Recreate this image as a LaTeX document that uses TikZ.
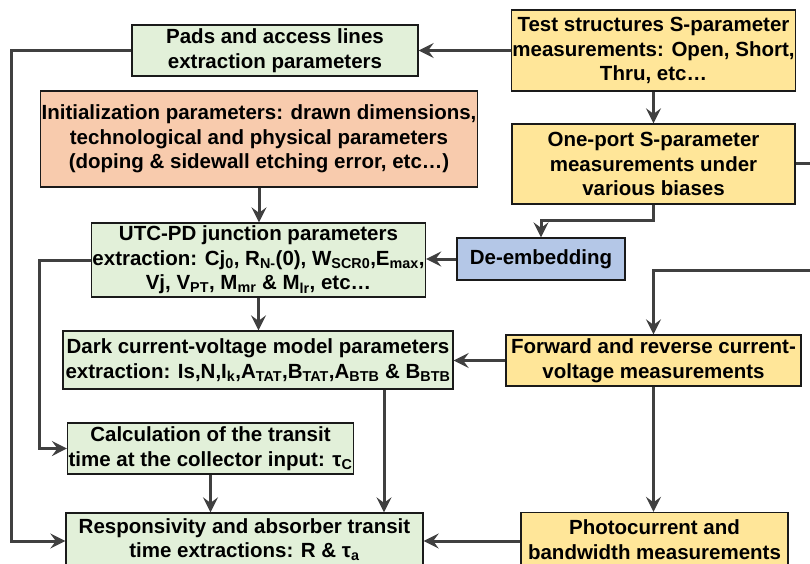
\documentclass[tikz,border=0pt]{standalone}
\usepackage{fontspec}
\setmainfont{Liberation Sans}
\usetikzlibrary{arrows.meta,calc}
\definecolor{gfill}{HTML}{E2F0D9}
\definecolor{sfill}{HTML}{F8CBAD}
\definecolor{yfill}{HTML}{FFE699}
\definecolor{bfill}{HTML}{B4C7E7}
\definecolor{lcol}{HTML}{404040}
\definecolor{bcol}{HTML}{1A1A1A}
\tikzset{
  box/.style={draw=bcol, line width=1.3pt, align=center, inner sep=1pt,
    font=\fontsize{20.5}{24.5}\selectfont\bfseries, text=black},
  gbox/.style={box, fill=gfill},
  sbox/.style={box, fill=sfill},
  ybox/.style={box, fill=yfill},
  bbox/.style={box, fill=bfill},
  arr/.style={draw=lcol, line width=3pt, -{Stealth[length=15pt,width=15pt,inset=5.5pt]}},
  ln/.style={draw=lcol, line width=3pt}
}
\newcommand{\sbx}[1]{\textsubscript{#1}}
\begin{document}
\begin{tikzpicture}[x=1pt,y=-1pt]
\useasboundingbox (0,0) rectangle (810,563);
\clip (0,0) rectangle (810,563);
\fill[white] (0,0) rectangle (810,563);

\node[gbox, minimum width=286pt, minimum height=51pt] (pads) at (275,50.5)
  {Pads and access lines\\extraction parameters};
\node[sbox, minimum width=436pt, minimum height=96pt] (init) at (259,139)
  {Initialization parameters: drawn dimensions,\\technological and physical parameters\\(doping \& sidewall etching error, etc…)};
\node[ybox, minimum width=283pt, minimum height=81pt] (test) at (653.5,50.5)
  {Test structures S-parameter\\measurements: Open, Short,\\Thru, etc…};
\node[ybox, minimum width=283pt, minimum height=80pt] (onep) at (653.5,164)
  {One-port S-parameter\\measurements under\\various biases};
\node[bbox, minimum width=168pt, minimum height=42pt] (deemb) at (541,259)
  {De-embedding};
\node[gbox, minimum width=328pt, minimum height=74pt] (utc) at (258.5,260)
  {UTC-PD junction parameters\\extraction: Cj\sbx{0}, R\sbx{N-}(0), W\sbx{SCR0},E\sbx{max},\\Vj, V\sbx{PT}, M\sbx{mr} \& M\sbx{lr}, etc…};
\node[gbox, minimum width=390pt, minimum height=58pt] (dark) at (258,360)
  {Dark current-voltage model parameters\\extraction: Is,N,I\sbx{k},A\sbx{TAT},B\sbx{TAT},A\sbx{BTB} \& B\sbx{BTB}};
\node[ybox, minimum width=295pt, minimum height=51pt] (fwd) at (653.5,360.5)
  {Forward and reverse current-\\voltage measurements};
\node[gbox, minimum width=283pt, minimum height=51pt] (calc) at (210.5,448.5)
  {Calculation of the transit\\time at the collector input: τ\sbx{C}};
\node[gbox, minimum width=357pt, minimum height=53pt] (resp) at (244.5,539.5)
  {Responsivity and absorber transit\\time extractions: R \& τ\sbx{a}};
\node[ybox, minimum width=267pt, minimum height=54pt] (photo) at (654.5,539.5)
  {Photocurrent and\\bandwidth measurements};

\coordinate (e1) at (810,163);
\coordinate (e2) at (810,270);

\draw[arr] (test.west) -- (pads.east);
\draw[arr] (test.south) -- (onep.north);
\draw[arr] (onep.south) -- ++(0,16) -| (deemb.north);
\draw[arr] (deemb.west) -- (deemb.west -| utc.east);
\draw[arr] (init.south) -- (init.south |- utc.north);
\draw[arr] (pads.west) -- ++(-120,0) |- ([yshift=-1.5pt]resp.west);
\draw[arr] (utc.west) -- ++(-51,0) |- (calc.west);
\draw[arr] (utc.south) -- (utc.south |- dark.north);
\draw[arr] (fwd.west) -- (fwd.west -| dark.east);
\draw[arr] (e2) -| (fwd.north);
\draw[ln] (onep.east |- e1) -- (e1);
\draw[arr] (fwd.south) -- (fwd.south |- photo.north);
\draw[arr] ([yshift=-1.5pt]photo.west) -- ([yshift=-1.5pt]resp.east);
\draw[arr] (calc.south) -- (calc.south |- resp.north);
\draw[arr] ([xshift=126pt]dark.south) -- ([xshift=126pt]dark.south |- resp.north);
\end{tikzpicture}
\end{document}
